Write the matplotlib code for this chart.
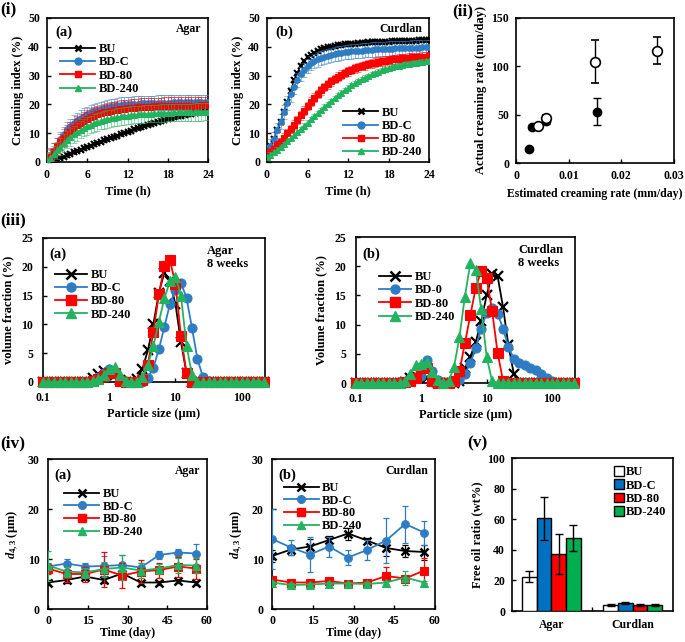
import matplotlib
matplotlib.use('Agg')
import matplotlib.pyplot as plt
from matplotlib.ticker import FuncFormatter, NullLocator, FixedLocator
from matplotlib.lines import Line2D
from matplotlib.patches import Patch

plt.rcParams['font.family'] = ['Liberation Serif', 'DejaVu Serif']
plt.rcParams['font.weight'] = 'bold'
plt.rcParams['axes.labelweight'] = 'bold'
plt.rcParams['font.size'] = 8.5
plt.rcParams['mathtext.fontset'] = 'custom'
plt.rcParams['mathtext.rm'] = 'Liberation Serif:bold'
plt.rcParams['mathtext.it'] = 'Liberation Serif:italic:bold'
plt.rcParams['mathtext.bf'] = 'Liberation Serif:bold'

# ---------------- data ----------------
series = ['BU', 'BD-C', 'BD-80', 'BD-240']
line_colors = ['#000000', '#2E7DC4', '#FF0000', '#22B35E']
bar_colors = ['#FFFFFF', '#0070C0', '#FF0000', '#00B050']
markers = ['x', 'o', 's', '^']

# (i) creaming index vs time (h)
time_h = [i * 0.5 for i in range(49)]
ci_agar_bu = [0, 0, 0.4, 0.9, 1.4, 1.9, 2.4, 2.9, 3.4, 3.8, 4.3, 4.8, 5.2, 5.7, 6.1, 6.6, 7.0,
              7.5, 7.9, 8.4, 8.8, 9.2, 9.7, 10.1, 10.5, 10.9, 11.3, 11.7, 12.1, 12.5, 12.9,
              13.3, 13.6, 14.0, 14.3, 14.7, 15.0, 15.3, 15.6, 15.9, 16.1, 16.4, 16.6, 16.8,
              17.0, 17.2, 17.4, 17.5, 17.7]
ci_agar_bdc = [0.5, 2.0, 4.0, 6.0, 8.0, 9.8, 11.3, 12.6, 13.7, 14.6, 15.4, 16.1, 16.7, 17.2,
               17.7, 18.1, 18.5, 18.8, 19.1, 19.3, 19.5, 19.7, 19.9, 20.0, 20.1, 20.2, 20.3,
               20.3, 20.4, 20.4, 20.5, 20.5, 20.5, 20.6, 20.6, 20.6, 20.6, 20.6, 20.7, 20.7,
               20.7, 20.7, 20.7, 20.7, 20.7, 20.7, 20.7, 20.7, 20.7]
ci_agar_bd80 = [0.5, 1.8, 3.5, 5.2, 6.8, 8.3, 9.7, 10.9, 11.9, 12.9, 13.7, 14.4, 15.0, 15.6,
                16.1, 16.5, 16.9, 17.2, 17.5, 17.8, 18.0, 18.2, 18.4, 18.5, 18.7, 18.8, 18.9,
                19.0, 19.1, 19.1, 19.2, 19.2, 19.3, 19.3, 19.3, 19.4, 19.4, 19.4, 19.5, 19.5,
                19.5, 19.5, 19.6, 19.6, 19.6, 19.6, 19.7, 19.7, 19.7]
ci_agar_bd240 = [0.3, 1.3, 2.7, 4.0, 5.3, 6.6, 7.7, 8.7, 9.6, 10.4, 11.2, 11.9, 12.5, 13.0,
                 13.5, 13.9, 14.3, 14.6, 14.9, 15.2, 15.4, 15.6, 15.8, 16.0, 16.1, 16.3, 16.4,
                 16.5, 16.6, 16.7, 16.8, 16.8, 16.9, 16.9, 17.0, 17.0, 17.1, 17.1, 17.2, 17.2,
                 17.2, 17.3, 17.3, 17.3, 17.4, 17.4, 17.4, 17.5, 17.5]
ci_agar_err = [0.5, 2.5, 3.0, 3.0]

ci_curd_bu = [3.5, 5.5, 8.0, 11.0, 14.0, 17.5, 21.0, 24.5, 28.5, 31.0, 33.5, 35.2, 36.3, 37.3,
              38.0, 38.6, 39.1, 39.5, 39.8, 40.1, 40.3, 40.5, 40.6, 40.8, 40.9, 41.0, 41.1,
              41.2, 41.3, 41.4, 41.5, 41.5, 41.6, 41.7, 41.7, 41.8, 41.8, 41.9, 41.9, 42.0,
              42.0, 42.0, 42.1, 42.1, 42.1, 42.2, 42.2, 42.2, 42.2]
ci_curd_bdc = [3.5, 5.5, 8.0, 11.0, 14.0, 17.3, 20.5, 23.5, 26.0, 28.5, 30.5, 32.0, 33.3, 34.3,
               35.0, 35.6, 36.1, 36.5, 36.9, 37.2, 37.5, 37.7, 37.9, 38.1, 38.2, 38.4, 38.5,
               38.6, 38.7, 38.8, 38.9, 39.0, 39.1, 39.2, 39.2, 39.3, 39.4, 39.4, 39.5, 39.5,
               39.6, 39.6, 39.6, 39.7, 39.7, 39.7, 39.8, 39.8, 39.8]
ci_curd_bd80 = [2.5, 3.5, 4.5, 5.8, 7.0, 8.5, 10.0, 11.5, 13.0, 14.6, 16.2, 17.8, 19.4, 20.9,
                22.3, 23.6, 24.9, 26.0, 27.0, 28.0, 28.8, 29.6, 30.3, 30.9, 31.5, 32.0, 32.5,
                32.9, 33.3, 33.6, 34.0, 34.3, 34.5, 34.8, 35.0, 35.2, 35.4, 35.6, 35.7, 35.9,
                36.0, 36.1, 36.2, 36.3, 36.4, 36.5, 36.6, 36.6, 36.7]
ci_curd_bd240 = [1.8, 2.6, 3.4, 4.3, 5.2, 6.2, 7.2, 8.2, 9.3, 10.4, 11.5, 12.6, 13.7, 14.8,
                 15.9, 17.0, 18.1, 19.2, 20.2, 21.2, 22.2, 23.2, 24.1, 25.0, 25.8, 26.6, 27.3,
                 28.0, 28.7, 29.3, 29.9, 30.4, 30.9, 31.4, 31.8, 32.2, 32.6, 32.9, 33.2, 33.5,
                 33.7, 33.9, 34.1, 34.3, 34.5, 34.6, 34.8, 34.9, 35.0]
ci_curd_err = [0.6, 2.5, 1.5, 0.8]

# (ii) actual vs estimated creaming rate
est_filled = [0.0025, 0.0030, 0.0057, 0.0153]
act_filled = [15, 37, 43, 53]
err_filled = [0, 2, 3, 14]
est_open = [0.0042, 0.0057, 0.0150, 0.0267]
act_open = [38, 47, 105, 116]
err_open = [1.5, 3, 22, 14]

# (iii) particle size distributions (8 weeks)
size_um = [0.100, 0.121, 0.147, 0.178, 0.215, 0.261, 0.316, 0.383, 0.464, 0.562, 0.681, 0.825,
           1.00, 1.21, 1.47, 1.78, 2.15, 2.61, 3.16, 3.83, 4.64, 5.62, 6.81, 8.25, 10.0, 12.1,
           14.7, 17.8, 21.5, 26.1, 31.6, 38.3, 46.4, 56.2, 68.1, 82.5, 100, 121, 147, 178, 215]
psd_agar_bu = [0] * 9 + [0.7, 1.4, 1.9, 1.5, 1.2, 0.3, 0, 0, 0.5, 2.2, 5.5, 10.0, 15.5, 19.0,
                         17.5, 13.5, 7.0, 1.5, 0] + [0] * 13
psd_agar_bdc = [0] * 9 + [0.3, 0.9, 1.6, 2.2, 1.5, 0.3, 0, 0, 0, 0, 0.7, 2.5, 5.7, 9.6, 13.5,
                          16.0, 17.2, 14.6, 9.3, 4.0, 0.8, 0.2] + [0] * 10
psd_agar_bd80 = [0] * 9 + [0.2, 0.5, 1.0, 1.6, 1.5, 0.2, 0, 0, 0, 0.3, 3.0, 8.7, 15.2, 20.2,
                           21.2, 17.0, 8.0, 1.5, 0] + [0] * 13
psd_agar_bd240 = [0] * 9 + [0.2, 0.6, 1.2, 2.2, 2.6, 1.2, 0.2, 0, 0, 0.8, 3.0, 6.2, 10.5, 14.5,
                            17.5, 18.3, 15.0, 6.3, 1.2, 0] + [0] * 12
psd_curd_bu = [0] * 9 + [0.2, 0.8, 1.2, 1.3, 0.8, 0.3, 0, 0, 0, 0, 0.3, 2.5, 4.5, 7.0, 10.6,
                         15.0, 18.6, 18.3, 13.0, 6.5, 1.5, 0] + [0] * 10
psd_curd_bd0 = [0] * 9 + [0.2, 0.6, 1.0, 1.2, 4.0, 2.0, 0.5, 0.1, 0, 0.2, 0.5, 1.6, 3.4, 6.0,
                          9.3, 12.0, 12.8, 11.9, 9.3, 6.2, 4.1, 3.4, 3.0, 2.6, 2.2, 1.6, 0.8,
                          0.3, 0] + [0] * 3
psd_curd_bd80 = [0] * 9 + [0.1, 0.3, 0.8, 2.5, 2.5, 0.4, 0, 0, 0, 0.3, 2.0, 6.8, 11.6, 16.3,
                           19.2, 17.9, 12.4, 5.2, 0.4, 0] + [0] * 12
psd_curd_bd240 = [0] * 9 + [0.3, 1.5, 3.0, 3.2, 3.6, 1.8, 0.5, 0, 0.3, 2.7, 7.8, 14.8, 20.5,
                            19.3, 12.6, 4.5, 0.3, 0] + [0] * 14

# (iv) d4,3 vs storage time
time_day = [0, 7, 14, 21, 28, 35, 42, 49, 56]
d43_agar = [[5.3, 5.8, 6.5, 5.8, 7.1, 5.3, 5.3, 5.7, 5.3],
            [8.5, 9.1, 8.5, 8.6, 8.8, 8.3, 10.8, 11.3, 11.1],
            [8.1, 7.0, 7.0, 7.9, 6.7, 7.5, 7.8, 8.5, 8.1],
            [8.7, 7.5, 7.3, 8.0, 8.3, 7.7, 8.1, 8.8, 8.7]]
d43_agar_err = [[0.5, 0.5, 0.7, 0.6, 0.6, 0.4, 0.4, 0.4, 0.4],
                [0.8, 1.0, 0.8, 2.0, 2.0, 1.0, 0.8, 0.8, 2.0],
                [1.0, 1.5, 1.5, 3.5, 2.5, 2.3, 1.5, 2.0, 2.0],
                [3.0, 1.0, 1.0, 1.5, 2.5, 1.5, 1.0, 1.5, 1.5]]
d43_curd = [[10.6, 11.9, 12.5, 13.8, 15.1, 13.7, 12.2, 11.6, 11.4],
            [14.0, 12.3, 10.9, 12.5, 10.3, 11.8, 13.7, 17.0, 15.3],
            [5.9, 5.3, 5.3, 5.6, 5.1, 5.3, 6.6, 6.1, 7.7],
            [5.3, 4.8, 4.9, 5.1, 5.1, 5.0, 5.3, 6.3, 5.3]]
d43_curd_err = [[1.2, 1.0, 1.5, 0.8, 1.2, 0.5, 1.5, 1.2, 1.5],
                [6.0, 1.5, 3.5, 2.0, 1.5, 2.0, 4.5, 3.7, 2.4],
                [0.6, 0.4, 0.4, 0.4, 0.5, 0.5, 1.8, 0.6, 2.5],
                [0.4, 0.4, 0.4, 0.4, 0.4, 0.4, 0.4, 1.4, 0.4]]

# (v) free oil ratio
groups = ['Agar', 'Curdlan']
free_oil = [[22.5, 4.0], [60.5, 5.0], [37.5, 4.0], [48.0, 4.0]]
free_oil_err = [[3.5, 0.5], [14.0, 0.6], [13.0, 0.5], [8.5, 0.5]]

# ---------------- layout ----------------
W, H = 685, 642
fig = plt.figure(figsize=(W / 100, H / 100), dpi=100)
LBL = 9
TCK = 8.5
LEG = 9


def add_ax(l, t, r, b):
    return fig.add_axes([l / W, 1 - b / H, (r - l) / W, (b - t) / H])


def style(ax, pad=5):
    for s in ax.spines.values():
        s.set_linewidth(1.2)
    ax.tick_params(direction='in', length=3, width=1, labelsize=TCK, pad=pad)


def ptext(x, y, s, size=11):
    fig.text(x / W, 1 - y / H, s, fontsize=size, fontweight='bold', va='center', ha='left')


def leg_handles(names, ms=5):
    hs = []
    for i, n in enumerate(names):
        mew = 1.8 if markers[i] == 'x' else 1
        hs.append(Line2D([], [], color=line_colors[i], marker=markers[i], ms=ms, mew=mew, lw=1.3))
    return hs


# ----- (i) creaming index -----
def creaming(ax, data, errs, tag, name, legloc, bbox):
    for i, y in enumerate(data):
        ax.errorbar(time_h, y, yerr=errs[i], fmt='none', ecolor=line_colors[i], elinewidth=0.6,
                    capsize=2, capthick=0.6, alpha=0.6, zorder=2 + i)
        mew = 1.5 if markers[i] == 'x' else 0.8
        ax.plot(time_h, y, color=line_colors[i], marker=markers[i], ms=4, mew=mew, lw=1,
                zorder=3 + i)
    ax.set_xlim(0, 24)
    ax.set_ylim(0, 50)
    ax.set_xticks([0, 6, 12, 18, 24])
    ax.set_yticks([0, 10, 20, 30, 40, 50])
    ax.set_xlabel('Time (h)', fontsize=LBL, labelpad=3)
    ax.set_ylabel('Creaming index (%)', fontsize=LBL, labelpad=3)
    ax.text(0.05, 0.875, tag, transform=ax.transAxes, fontsize=10.5, fontweight='bold')
    ax.text(0.96, 0.9, name, transform=ax.transAxes, fontsize=8.5, fontweight='bold', ha='right')
    ax.legend(handles=leg_handles(series, 5), labels=series, loc=legloc, bbox_to_anchor=bbox,
              frameon=False, fontsize=LEG, handlelength=2.8, labelspacing=0.1,
              borderaxespad=0, handletextpad=0.3)
    style(ax)


ax1 = add_ax(47, 18, 208, 162)
creaming(ax1, [ci_agar_bu, ci_agar_bdc, ci_agar_bd80, ci_agar_bd240], ci_agar_err,
         '(a)', 'Agar', 'upper left', (0.05, 0.86))
ax2 = add_ax(267, 18, 429, 162)
creaming(ax2, [ci_curd_bu, ci_curd_bdc, ci_curd_bd80, ci_curd_bd240], ci_curd_err,
         '(b)', 'Curdlan', 'lower right', (0.99, -0.01))

# ----- (ii) -----
ax3 = add_ax(516, 18, 674, 163)
ax3.errorbar(est_filled, act_filled, yerr=err_filled, fmt='o', color='black', ms=6,
             mfc='black', mec='black', ecolor='black', capsize=3, elinewidth=1, zorder=3)
ax3.errorbar(est_open, act_open, yerr=err_open, fmt='o', color='black', ms=7,
             mfc='white', mec='black', mew=1.2, ecolor='black', capsize=3, elinewidth=1, zorder=4)
ax3.set_xlim(0, 0.03)
ax3.set_ylim(0, 150)
ax3.set_xticks([0, 0.01, 0.02, 0.03])
ax3.set_yticks([0, 50, 100, 150])
ax3.xaxis.set_major_formatter(FuncFormatter(lambda v, p: '0' if v == 0 else f'{v:g}'))
ax3.set_xlabel('Estimated creaming rate (mm/day)', fontsize=8.5, labelpad=4)
ax3.set_ylabel('Actual creaming rate (mm/day)', fontsize=LBL, labelpad=3)
style(ax3)


# ----- (iii) PSD -----
def psd(ax, data, names, ylab, tag, text, leg_bbox):
    for i, y in enumerate(data):
        mew = 1.6 if markers[i] == 'x' else 0.8
        ax.plot(size_um, y, color=line_colors[i], marker=markers[i], ms=6.5, mew=mew, lw=1.3,
                clip_on=False, zorder=3 + i)
    ax.set_xscale('log')
    ax.set_xlim(0.1, 225)
    ax.set_ylim(0, 25)
    ax.xaxis.set_major_locator(FixedLocator([0.1, 1, 10, 100]))
    ax.xaxis.set_minor_locator(NullLocator())
    ax.xaxis.set_major_formatter(FuncFormatter(lambda v, p: f'{v:g}'))
    ax.set_yticks([0, 5, 10, 15, 20, 25])
    ax.set_xlabel('Particle size (μm)', fontsize=LBL, labelpad=3)
    ax.set_ylabel(ylab, fontsize=LBL, labelpad=5)
    ax.text(0.03, 0.86, tag, transform=ax.transAxes, fontsize=10.5, fontweight='bold')
    ax.text(0.74, 0.95, text, transform=ax.transAxes, fontsize=9, fontweight='bold',
            va='top', linespacing=1.1)
    ax.legend(handles=leg_handles(names, 6.5), labels=names, loc='upper left',
              bbox_to_anchor=leg_bbox, frameon=False, fontsize=LEG, handlelength=2.6,
              labelspacing=0.1, borderaxespad=0, handletextpad=0.3)
    style(ax, pad=7)


ax4 = add_ax(43, 238, 265, 382)
psd(ax4, [psd_agar_bu, psd_agar_bdc, psd_agar_bd80, psd_agar_bd240], series,
    'volume fraction (%)', '(a)', 'Agar\n8 weeks', (0.03, 0.82))
ax5 = add_ax(356, 237, 575, 383)
psd(ax5, [psd_curd_bu, psd_curd_bd0, psd_curd_bd80, psd_curd_bd240],
    ['BU', 'BD-0', 'BD-80', 'BD-240'],
    'Volume fraction (%)', '(b)', 'Curdlan\n8 weeks', (0.08, 0.8))


# ----- (iv) d4,3 -----
def d43(ax, data, errs, tag, name, leg_bbox):
    for i, y in enumerate(data):
        ax.errorbar(time_day, y, yerr=errs[i], fmt='none', ecolor=line_colors[i],
                    elinewidth=0.9, capsize=2.5, capthick=0.9, zorder=2 + i)
        mew = 1.8 if markers[i] == 'x' else 0.8
        ax.plot(time_day, y, color=line_colors[i], marker=markers[i], ms=5.5, mew=mew, lw=1.3,
                zorder=3 + i)
    ax.set_xlim(0, 60)
    ax.set_ylim(0, 30)
    ax.set_xticks([0, 15, 30, 45, 60])
    ax.set_yticks([0, 10, 20, 30])
    ax.set_xlabel('Time (day)', fontsize=8.5, labelpad=0)
    ax.set_ylabel(r'$d_{\mathrm{4,3}}$ (μm)', fontsize=LBL, labelpad=5)
    ax.text(0.04, 0.87, tag, transform=ax.transAxes, fontsize=10.5, fontweight='bold')
    ax.text(0.96, 0.9, name, transform=ax.transAxes, fontsize=8.5, fontweight='bold', ha='right')
    ax.legend(handles=leg_handles(series, 5.5), labels=series, loc='upper left',
              bbox_to_anchor=leg_bbox, frameon=False, fontsize=LEG, handlelength=2.8,
              labelspacing=0.05, borderaxespad=0, handletextpad=0.3)
    style(ax, pad=4)
    ax.tick_params(axis='y', pad=6)


ax6 = add_ax(48, 459, 207, 609)
d43(ax6, d43_agar, d43_agar_err, '(a)', 'Agar', (0.07, 0.84))
ax7 = add_ax(272, 459, 435, 609)
d43(ax7, d43_curd, d43_curd_err, '(b)', 'Curdlan', (0.04, 0.88))

# ----- (v) free oil -----
ax8 = add_ax(512, 458, 673, 611)
bw = 0.181
for i in range(4):
    xs = [g + (i - 1.5) * bw for g in range(len(groups))]
    ax8.bar(xs, free_oil[i], width=bw, color=bar_colors[i], edgecolor='black', linewidth=1,
            yerr=free_oil_err[i], capsize=3, error_kw=dict(elinewidth=1, capthick=1, ecolor='black'),
            zorder=3)
ax8.set_xlim(-0.484, 1.496)
ax8.set_ylim(0, 100)
ax8.set_yticks([0, 20, 40, 60, 80, 100])
ax8.set_xticks([0, 1])
ax8.set_xticklabels(groups, fontsize=TCK + 0.5)
ax8.set_xticks([0.5], minor=True)
ax8.set_ylabel('Free oil ratio (wt%)', fontsize=LBL, labelpad=3)
style(ax8)
ax8.tick_params(axis='x', which='major', length=0, pad=6)
ax8.tick_params(axis='x', which='minor', direction='in', length=3, width=1)
ax8.legend(handles=[Patch(facecolor=bar_colors[i], edgecolor='black') for i in range(4)],
           labels=series, loc='upper left', bbox_to_anchor=(0.6, 0.98), frameon=False,
           fontsize=LEG, handlelength=0.8, handleheight=0.8, labelspacing=0.1,
           handletextpad=0.2, borderaxespad=0)

# ----- panel labels -----
ptext(0, 9, '(i)', 12.5)
ptext(452, 11, '(ii)', 12.5)
ptext(0, 220, '(iii)', 12.5)
ptext(0, 443, '(iv)', 12.5)
ptext(467, 443, '(v)', 12.5)

fig.savefig('out.png', dpi=100)
